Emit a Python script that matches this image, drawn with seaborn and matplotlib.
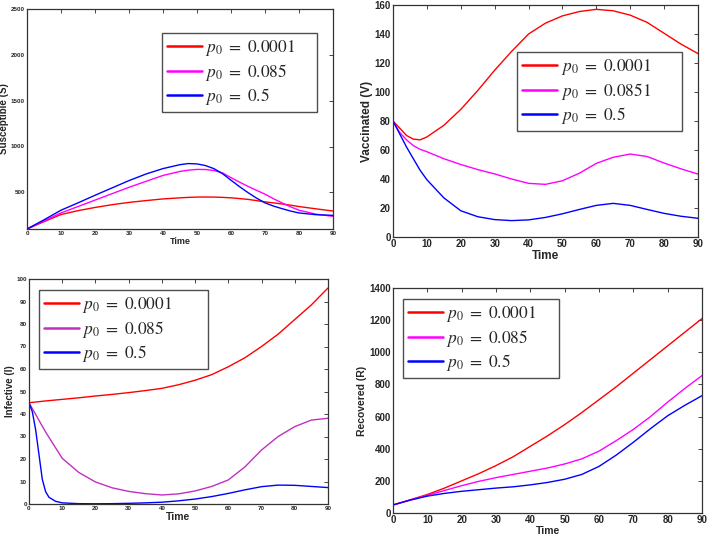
import matplotlib
matplotlib.use("Agg")
import matplotlib.pyplot as plt
import seaborn as sns
import pandas as pd

sns.set_theme(style="white")
plt.rcParams["font.family"] = ["Liberation Sans", "DejaVu Sans"]
plt.rcParams["mathtext.fontset"] = "stix"

labels_a = ["$p_0\\ =\\ 0.0001$", "$p_0\\ =\\ 0.085$", "$p_0\\ =\\ 0.5$"]
labels_v = ["$p_0\\ =\\ 0.0001$", "$p_0\\ =\\ 0.0851$", "$p_0\\ =\\ 0.5$"]

# Susceptible
T_S = [0, 5, 10, 15, 20, 25, 30, 35, 40, 45, 47.5, 50, 52.5, 55, 57.5, 60, 62.5, 65, 67.5, 70, 72.5, 75, 77.5, 80, 85, 90]
S_red = [100, 180, 258, 300, 335, 365, 390, 410, 428, 440, 445, 448, 449, 448, 445, 440, 432, 423, 410, 396, 385, 373, 360, 345, 320, 296]
S_mag = [100, 188, 275, 345, 415, 485, 555, 620, 684, 728, 742, 750, 749, 738, 712, 660, 612, 565, 522, 480, 430, 385, 342, 305, 262, 238]
S_blue = [100, 200, 305, 385, 468, 548, 628, 700, 759, 802, 814, 810, 792, 758, 704, 632, 562, 497, 437, 385, 350, 322, 296, 275, 256, 249]

# Vaccinated
T_V = [0, 2, 4, 6, 8, 10, 15, 20, 25, 30, 35, 40, 45, 50, 55, 60, 65, 70, 75, 80, 85, 90]
V_red = [80, 75, 70, 67.5, 67, 69, 77, 88, 101, 115, 128, 140, 147.5, 152.5, 155.5, 157, 156, 153, 148, 140.5, 133, 126.5]
V_mag = [80, 72, 67, 63, 60.5, 58.8, 54, 50, 46.5, 43.5, 40, 37, 36.3, 38.8, 44, 50.8, 55, 57.2, 55.5, 51, 47, 43.4]
V_blue = [80, 71, 62, 54, 46, 39.5, 27, 18.1, 14, 12, 11.3, 11.8, 13.5, 16, 19, 21.8, 23.2, 21.8, 19, 16.3, 14.3, 12.9]

# Infective
T_I = [0, 5, 10, 15, 20, 25, 30, 35, 40, 45, 50, 55, 60, 65, 70, 75, 80, 85, 90]
I_red = [45, 45.8, 46.5, 47.2, 48, 48.7, 49.5, 50.4, 51.4, 53, 55, 57.5, 61, 65, 70, 75.5, 82, 88.5, 96]
I_mag = [45, 32, 20.3, 14, 9.8, 7.2, 5.6, 4.6, 4.0, 4.5, 5.8, 7.8, 10.7, 16.5, 24, 30, 34.4, 37.3, 38.1]
T_Ib = [0, 1, 2, 3, 4, 5, 6, 8, 10, 15, 20, 25, 30, 35, 40, 45, 50, 55, 60, 65, 70, 75, 80, 85, 90]
I_blue = [45, 41, 33, 22, 11, 5.5, 3, 1.2, 0.5, 0.15, 0.1, 0.15, 0.3, 0.5, 0.8, 1.4, 2.2, 3.3, 4.7, 6.3, 7.7, 8.4, 8.3, 7.8, 7.3]

# Recovered
T_R = [0, 5, 10, 15, 20, 25, 30, 35, 40, 45, 50, 55, 60, 65, 70, 75, 80, 85, 90]
R_red = [50, 82, 115, 155, 200, 245, 295, 350, 415, 480, 550, 625, 705, 785, 870, 955, 1040, 1125, 1210]
R_mag = [50, 81, 110, 140, 170, 197, 220, 240, 260, 280, 305, 337, 385, 450, 520, 600, 690, 775, 855]
R_blue = [50, 80, 105, 122, 135, 145, 155, 163, 175, 190, 210, 240, 290, 360, 440, 525, 605, 670, 730]


def frame(series, labels):
    parts = []
    for (t, y), lab in zip(series, labels):
        parts.append(pd.DataFrame({"Time": t, "value": y, "series": lab}))
    return pd.concat(parts, ignore_index=True)


fig = plt.figure(figsize=(7.08, 5.4), dpi=100)
panels = [
    dict(rect=[27 / 708, 1 - 229 / 540, 306 / 708, 220 / 540],
         series=[(T_S, S_red), (T_S, S_mag), (T_S, S_blue)], labels=labels_a,
         ylabel="Susceptible (S)", ylim=(100, 2500), yticks=[500, 1000, 1500, 2000, 2500],
         colors=["#ff0000", "#ff00ff", "#0000ff"], fs=4.5, lfs=7, xlfs=6.5, ylx=-0.058,
         leg=(0.441, 0.536, 0.507, 0.355)),
    dict(rect=[393 / 708, 1 - 237 / 540, 305 / 708, 232 / 540],
         series=[(T_V, V_red), (T_V, V_mag), (T_V, V_blue)], labels=labels_v,
         ylabel="Vaccinated (V)", ylim=(0, 160), yticks=list(range(0, 161, 20)),
         colors=["#ff0000", "#ff00ff", "#0000ff"], fs=7, lfs=8.5, xlfs=8.5, ylx=-0.065,
         leg=(0.407, 0.444, 0.541, 0.353)),
    dict(rect=[29 / 708, 1 - 504 / 540, 299 / 708, 225 / 540],
         series=[(T_I, I_red), (T_I, I_mag), (T_Ib, I_blue)], labels=labels_a,
         ylabel="Infective (I)", ylim=(0, 100), yticks=list(range(0, 101, 10)),
         colors=["#ff0000", "#c030c0", "#0000ff"], fs=4.5, lfs=7, xlfs=7.5, ylx=-0.048,
         leg=(0.033, 0.6, 0.566, 0.351)),
    dict(rect=[393 / 708, 1 - 513 / 540, 309 / 708, 225 / 540],
         series=[(T_R, R_red), (T_R, R_mag), (T_R, R_blue)], labels=labels_a,
         ylabel="Recovered (R)", ylim=(0, 1400), yticks=list(range(0, 1401, 200)),
         colors=["#ff0000", "#ff00ff", "#0000ff"], fs=7, lfs=7.5, xlfs=7.5, ylx=-0.083,
         leg=(0.032, 0.609, 0.505, 0.342)),
]

for p in panels:
    ax = fig.add_axes(p["rect"])
    df = frame(p["series"], p["labels"])
    sns.lineplot(data=df, x="Time", y="value", hue="series", palette=p["colors"],
                 ax=ax, linewidth=1.0, sort=False, estimator=None)
    ax.set_xlim(0, 90)
    ax.set_ylim(*p["ylim"])
    ax.set_xticks(list(range(0, 91, 10)))
    ax.set_yticks(p["yticks"])
    ax.tick_params(direction="in", length=3, width=0.6, top=True, right=True,
                   labelsize=p["fs"], pad=1.5)
    for lab in ax.get_xticklabels() + ax.get_yticklabels():
        lab.set_fontweight("bold")
    for s in ax.spines.values():
        s.set_color("#333333")
        s.set_linewidth(0.9)
    ax.set_xlabel("Time", fontsize=p["xlfs"], fontweight="bold", labelpad=1)
    ax.set_ylabel(p["ylabel"], fontsize=p["lfs"], fontweight="bold")
    ax.yaxis.set_label_coords(p["ylx"], 0.5)
    handles, labs = ax.get_legend_handles_labels()
    for h in handles:
        h.set_linewidth(1.8)
    leg = ax.legend(handles, labs, loc="upper left", bbox_to_anchor=p["leg"], mode="expand",
                    fontsize=12.5, frameon=True, fancybox=False, edgecolor="#222222",
                    handlelength=2.0, handletextpad=0.2, labelspacing=0.2, borderpad=0.3,
                    borderaxespad=0)
    leg.get_frame().set_linewidth(1.0)

fig.savefig("out.png", dpi=100)
